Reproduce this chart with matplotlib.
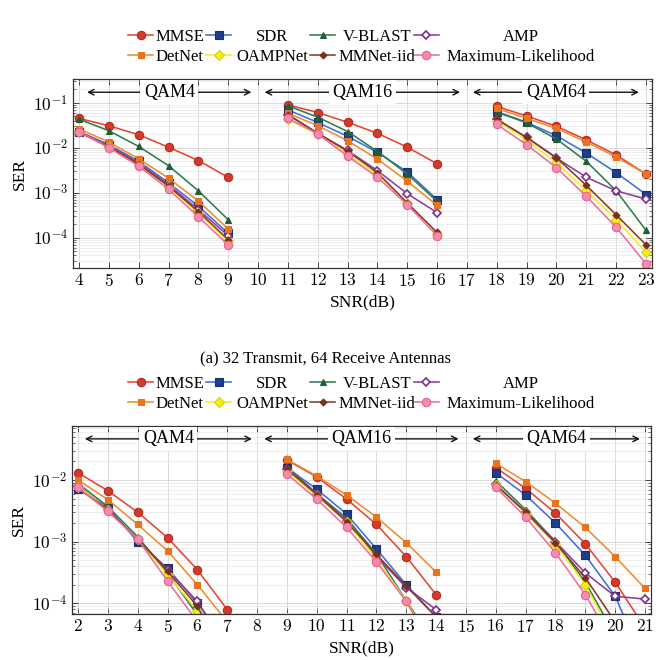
import numpy as np
import matplotlib
matplotlib.use("Agg")
import matplotlib.pyplot as plt
from matplotlib.lines import Line2D
from matplotlib.ticker import FuncFormatter, LogLocator, NullFormatter

plt.rcParams['mathtext.fontset'] = 'cm'
plt.rcParams['font.family'] = ['Liberation Serif', 'DejaVu Serif']

methods = ["MMSE", "SDR", "V-BLAST", "AMP", "DetNet", "OAMPNet", "MMNet-iid", "Maximum-Likelihood"]

# ---------------- (a) 32 Transmit, 64 Receive ----------------
snr_a = [[4, 5, 6, 7, 8, 9], [11, 12, 13, 14, 15, 16], [18, 19, 20, 21, 22, 23]]
ser_a = {
    "MMSE": [[0.045, 0.031, 0.0195, 0.0103, 0.0052, 0.0022],
             [0.09, 0.061, 0.037, 0.021, 0.0103, 0.0044],
             [0.083, 0.051, 0.030, 0.015, 0.0069, 0.0026]],
    "SDR": [[0.023, 0.0117, 0.005, 0.00166, 0.0005, 0.000125],
            [0.07, 0.0366, 0.018, 0.0079, 0.0029, 0.0007],
            [0.064, 0.037, 0.0185, 0.0076, 0.0028, 0.00091]],
    "V-BLAST": [[0.043, 0.024, 0.0107, 0.004, 0.0011, 0.00025],
                [0.086, 0.048, 0.023, 0.0083, 0.0026, 0.00064],
                [0.062, 0.036, 0.0156, 0.005, 0.0011, 0.000145]],
    "AMP": [[0.023, 0.011, 0.0046, 0.0015, 0.00042, 0.00011],
            [0.054, 0.021, 0.0087, 0.0031, 0.00095, 0.00036],
            [0.043, 0.017, 0.0059, 0.0022, 0.0011, 0.00072]],
    "DetNet": [[0.0264, 0.0134, 0.0057, 0.0021, 0.00065, 0.000155],
               [0.059, 0.031, 0.0144, 0.0056, 0.0018, 0.00052],
               [0.075, 0.045, 0.027, 0.0135, 0.0062, 0.0026]],
    "OAMPNet": [[0.022, 0.0105, 0.0042, 0.00135, 0.00035, 0.000083],
                [0.043, 0.02, 0.0072, 0.0025, 0.00058, 0.00012],
                [0.040, 0.015, 0.0046, 0.0011, 0.00025, 0.000047]],
    "MMNet-iid": [[0.022, 0.0106, 0.0043, 0.0014, 0.00038, 0.00009],
                  [0.055, 0.021, 0.0084, 0.0028, 0.00059, 0.00013],
                  [0.043, 0.017, 0.006, 0.00145, 0.00032, 0.000069]],
    "Maximum-Likelihood": [[0.023, 0.01, 0.0039, 0.0012, 0.00029, 0.000069],
                           [0.045, 0.0205, 0.0065, 0.0022, 0.00054, 0.00011],
                           [0.033, 0.0117, 0.0036, 0.00083, 0.00017, 0.000026]],
}

# ---------------- lower panel ----------------
snr_b = [[2, 3, 4, 5, 6, 7], [9, 10, 11, 12, 13, 14], [16, 17, 18, 19, 20, 21]]
ser_b = {
    "MMSE": [[0.0131, 0.0067, 0.003, 0.00116, 0.00035, 0.000079],
             [0.021, 0.0112, 0.0049, 0.0019, 0.00057, 0.000138],
             [0.0159, 0.0073, 0.0029, 0.00092, 0.00022, 0.00004]],
    "SDR": [[0.0071, 0.0036, 0.001, 0.00037, 0.0001, 0.00002],
            [0.0158, 0.0071, 0.0028, 0.00076, 0.0002, 0.00006],
            [0.0131, 0.0057, 0.002, 0.0006, 0.00013, 0.00001]],
    "V-BLAST": [[0.0088, 0.0037, 0.0012, 0.00031, 0.000065, 0.00001],
                [0.0165, 0.006, 0.0024, 0.00063, 0.00011, 0.00002],
                [0.0097, 0.0033, 0.001, 0.00022, 0.00003, 0.000005]],
    "AMP": [[0.008, 0.0033, 0.0011, 0.00035, 0.000107, 0.00002],
            [0.015, 0.006, 0.0022, 0.00058, 0.00018, 0.000079],
            [0.0085, 0.003, 0.001, 0.00031, 0.00013, 0.000117]],
    "DetNet": [[0.01, 0.0048, 0.0019, 0.00071, 0.0002, 0.00005],
               [0.0216, 0.0116, 0.0057, 0.0025, 0.00096, 0.00032],
               [0.0186, 0.0094, 0.0042, 0.0017, 0.00057, 0.000174]],
    "OAMPNet": [[0.0078, 0.0033, 0.0011, 0.00029, 0.000076, 0.00001],
                [0.014, 0.0055, 0.0021, 0.00052, 0.00011, 0.000015],
                [0.0083, 0.0029, 0.0009, 0.0002, 0.000025, 0.000004]],
    "MMNet-iid": [[0.0073, 0.0033, 0.0011, 0.00033, 0.00009, 0.00001],
                  [0.015, 0.0058, 0.0021, 0.00062, 0.00019, 0.00006],
                  [0.0083, 0.003, 0.00095, 0.00026, 0.00005, 0.000008]],
    "Maximum-Likelihood": [[0.0076, 0.0031, 0.0011, 0.00023, 0.00005, 0.000005],
                           [0.0125, 0.0049, 0.0017, 0.00047, 0.000107, 0.000015],
                           [0.0076, 0.0025, 0.00066, 0.000138, 0.00002, 0.000003]],
}

group_labels = ["QAM4", "QAM16", "QAM64"]
arrows_a = [(4.27, 9.78), (10.22, 16.77), (17.2, 22.76)]
arrows_b = [(2.23, 7.83), (8.24, 14.75), (15.23, 20.83)]
xticks_a = list(range(4, 24))
xticks_b = list(range(2, 22))
caption_a = "(a) 32 Transmit, 64 Receive Antennas"

styles = {
    "MMSE": dict(color="#e8452f", marker="o", ms=6, mfc="#d23a2a", mec="#b52a22"),
    "SDR": dict(color="#3f6fd8", marker="s", ms=6, mfc="#1f3d8f", mec="#1a2f70"),
    "V-BLAST": dict(color="#2e7d4f", marker="^", ms=4.5, mfc="#1f5e36", mec="#1f5e36"),
    "AMP": dict(color="#8a3f9a", marker="D", ms=4.5, mfc="white", mec="#7a2f8a", mew=1.2),
    "DetNet": dict(color="#f28a2e", marker="s", ms=4.5, mfc="#e8741e", mec="#e8741e"),
    "OAMPNet": dict(color="#f4ee1a", marker="D", ms=5, mfc="#f4ee1a", mec="#d8d000"),
    "MMNet-iid": dict(color="#8c3a28", marker="D", ms=3.5, mfc="#7a2e1e", mec="#7a2e1e"),
    "Maximum-Likelihood": dict(color="#f06c9b", marker="o", ms=6, mfc="#f48cb0", mec="#e86090"),
}

W, H = 665, 660
fig = plt.figure(figsize=(W / 100, H / 100), dpi=100)
ax_a = fig.add_axes([73 / W, 1 - 268 / H, 579 / W, 189 / H])
ax_b = fig.add_axes([72 / W, 1 - 614 / H, 579 / W, 188.3 / H])

def draw(ax, snr, ser, xticks, arrows, xlim, ylim):
    for m in methods:
        st = styles[m]
        for g in range(3):
            ax.plot(snr[g], ser[m][g], color=st["color"], lw=1.15,
                    marker=st["marker"], ms=st["ms"], mfc=st["mfc"],
                    mec=st["mec"], mew=st.get("mew", 0.8))
    ax.set_yscale("log")
    ax.set_xlim(*xlim)
    ax.set_ylim(*ylim)
    ax.set_xticks(xticks)
    ax.xaxis.set_major_formatter(FuncFormatter(lambda v, p: f"${int(round(v))}$"))
    ax.yaxis.set_major_locator(LogLocator(base=10, numticks=10))
    ax.yaxis.set_minor_locator(LogLocator(base=10, subs=np.arange(2, 10), numticks=20))
    ax.yaxis.set_major_formatter(FuncFormatter(lambda v, p: f"$10^{{{int(round(np.log10(v)))}}}$"))
    ax.yaxis.set_minor_formatter(NullFormatter())
    ax.tick_params(axis="both", which="both", direction="in", top=True, right=True,
                   labelsize=12.5, color="#444444")
    ax.tick_params(which="major", length=4, width=0.7)
    ax.tick_params(which="minor", length=2.5, width=0.5)
    ax.grid(True, which="major", color="#d5d5d5", lw=0.6)
    ax.yaxis.grid(True, which="minor", color="#e8e8e8", lw=0.5)
    for s in ax.spines.values():
        s.set_linewidth(0.9)
        s.set_color("#333333")
    ax.set_axisbelow(True)
    ax.set_ylabel("SER", fontsize=12.5)
    ax.set_xlabel("SNR(dB)", fontsize=12.5, labelpad=3)
    ax.yaxis.set_label_coords(-0.078, 0.5)
    trans = ax.get_xaxis_transform()
    for (x0, x1), lab in zip(arrows, group_labels):
        yy = 0.93
        xc = (x0 + x1) / 2
        for xe in (x0, x1):
            ax.annotate("", xy=(xe, yy), xytext=(xc, yy), xycoords=trans, textcoords=trans,
                        arrowprops=dict(arrowstyle="->", lw=1.0, color="#111111",
                                        shrinkA=0, shrinkB=0))
        ax.text(xc, yy, lab, transform=trans, ha="center", va="center", fontsize=13,
                bbox=dict(facecolor="white", edgecolor="none", pad=2.5))

draw(ax_a, snr_a, ser_a, xticks_a, arrows_a, (3.8, 23.2), (2.1e-5, 0.34))
draw(ax_b, snr_b, ser_b, xticks_b, arrows_b, (1.8, 21.2), (6.7e-5, 0.076))

# pgfplots-like legend: 4 columns, handle then centred text (pixel layout)
col_handles = [(128, 153), (206, 231), (310, 335), (414, 439)]
col_text_c = [180, 272, 377, 521]

def legend_at(row1_y):
    for i, m in enumerate(methods):
        c = i % 4
        r = i // 4
        y = 1 - (row1_y + 20 * r) / H
        x0, x1 = col_handles[c]
        st = styles[m]
        xs = [x0 / W, (x0 + x1) / 2 / W, x1 / W]
        ln = Line2D(xs, [y, y, y], transform=fig.transFigure, color=st["color"], lw=1.15,
                    marker=st["marker"], ms=st["ms"], mfc=st["mfc"], mec=st["mec"],
                    mew=st.get("mew", 0.8), markevery=[1])
        fig.add_artist(ln)
        fig.text(col_text_c[c] / W, y, m, ha="center", va="center_baseline", fontsize=12)

legend_at(35)
legend_at(382)

fig.text(326 / W, 1 - 357 / H, caption_a, ha="center", va="center_baseline", fontsize=12)

fig.savefig("out.png", dpi=100)
